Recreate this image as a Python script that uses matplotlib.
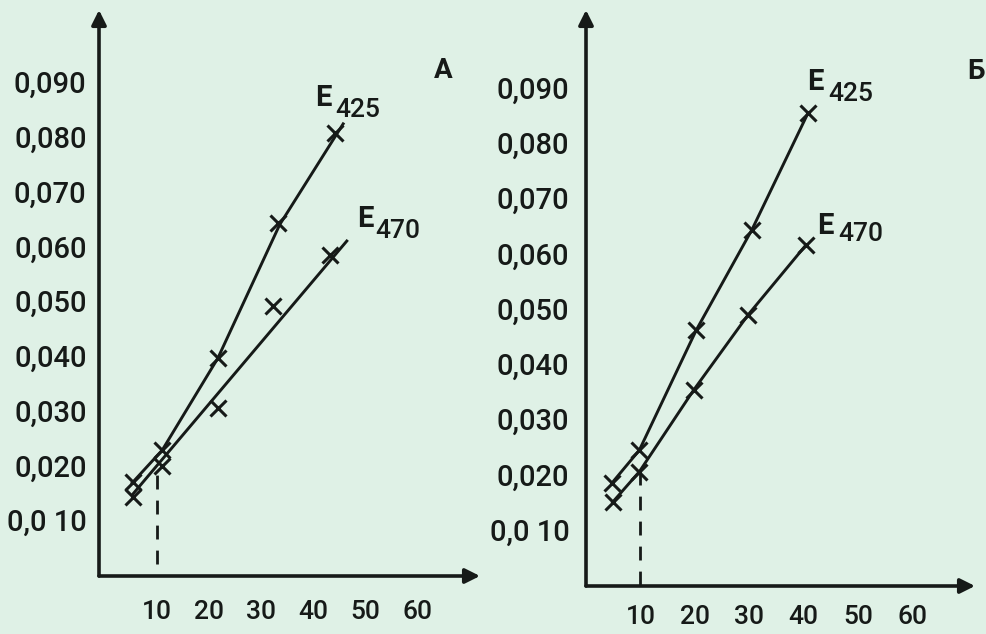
import matplotlib
matplotlib.use("Agg")
import matplotlib.pyplot as plt

plt.rcParams['font.family'] = ['Roboto', 'DejaVu Sans']

# ---- data ----
# Panel A: measured points
a_x425 = [5.4, 11.0, 21.7, 33.3, 44.2]
a_y425 = [0.0170, 0.0228, 0.0396, 0.0643, 0.0807]
a_x470 = [5.4, 11.0, 21.7, 32.3, 43.3]
a_y470 = [0.0142, 0.0199, 0.0305, 0.0491, 0.0584]
# Panel A: drawn lines (E425 hand-drawn through points, E470 straight fit)
a_line425_x = [5.2, 11.0, 21.7, 33.6, 45.8]
a_line425_y = [0.0168, 0.0228, 0.0396, 0.0640, 0.0824]
a_line470_x = [5.2, 46.5]
a_line470_y = [0.0146, 0.0610]
# Panel Б
b_x425 = [4.8, 9.8, 20.3, 30.5, 40.8]
b_y425 = [0.0185, 0.0244, 0.0462, 0.0643, 0.0854]
b_x470 = [4.9, 9.8, 19.8, 29.8, 40.4]
b_y470 = [0.0150, 0.0205, 0.0353, 0.0489, 0.0615]

x_ticks = [10, 20, 30, 40, 50, 60]
x_labels = ['10', '20', '30', '40', '50', '60']
y_ticks = [0.010, 0.020, 0.030, 0.040, 0.050, 0.060, 0.070, 0.080, 0.090]
y_labels = ['0,0 10', '0,020', '0,030', '0,040', '0,050', '0,060', '0,070', '0,080', '0,090']
series_names = ['425', '470']
panel_names = ['А', 'Б']
marker_x = 10  # dashed reference line position

BG = '#dff1e6'
INK = '#161a18'

W, H = 986, 634
fig = plt.figure(figsize=(W / 100, H / 100), dpi=100, facecolor=BG)


def px_axes(left, right, bottom, top):
    return fig.add_axes([left / W, (H - bottom) / H, (right - left) / W, (bottom - top) / H])


def setup(ax, xlim, ylim, ypad, xpad):
    ax.set_facecolor(BG)
    ax.set_xlim(*xlim)
    ax.set_ylim(*ylim)
    for s in ax.spines.values():
        s.set_visible(False)
    ax.set_xticks(x_ticks)
    ax.set_xticklabels(x_labels, fontsize=19, color=INK, fontweight='medium')
    ax.set_yticks(y_ticks)
    ax.set_yticklabels(y_labels, fontsize=21, color=INK, fontweight='medium')
    ax.tick_params(axis='both', length=0)
    ax.tick_params(axis='y', pad=ypad)
    ax.tick_params(axis='x', pad=xpad)
    # axes drawn as arrows
    ax.annotate('', xy=(0, 1), xytext=(0, 0), xycoords='axes fraction',
                arrowprops=dict(arrowstyle='-|>', lw=2.6, color=INK, mutation_scale=22,
                                shrinkA=0, shrinkB=0))
    ax.annotate('', xy=(1, 0), xytext=(0, 0), xycoords='axes fraction',
                arrowprops=dict(arrowstyle='-|>', lw=2.6, color=INK, mutation_scale=22,
                                shrinkA=0, shrinkB=0))


def pts(ax, xs, ys):
    ax.plot(xs, ys, ls='none', color=INK, marker='x', ms=11, mew=2.2, clip_on=False)


def line(ax, xs, ys):
    ax.plot(xs, ys, color=INK, lw=2.1, clip_on=False)


# ---- Panel A ----
axA = px_axes(99, 480, 576, 10)
setup(axA, ((99 - 105) / 5.2, (480 - 105) / 5.2), ((575 - 576) / 5475, (575 - 10) / 5475),
      ypad=9, xpad=17)
line(axA, a_line425_x, a_line425_y)
line(axA, a_line470_x, a_line470_y)
pts(axA, a_x425, a_y425)
pts(axA, a_x470, a_y470)
axA.plot([marker_x, marker_x], [0.002, a_y470[1]], color=INK, lw=2.0, ls=(0, (5, 4)))
axA.text(40.4, 0.0871, 'E', fontsize=21, color=INK, ha='left', va='center', fontweight='bold')
axA.text(44.2, 0.0850, series_names[0], fontsize=19, color=INK, ha='left', va='center',
         fontweight='medium')
axA.text(48.5, 0.0650, 'E', fontsize=21, color=INK, ha='left', va='center', fontweight='bold')
axA.text(51.9, 0.0629, series_names[1], fontsize=19, color=INK, ha='left', va='center',
         fontweight='medium')
axA.text(65.0, 0.0922, panel_names[0], fontsize=20, color=INK, ha='center', va='center',
         fontweight='bold')

# ---- Panel Б ----
axB = px_axes(586, 975, 586, 10)
setup(axB, ((586 - 586) / 5.44, (975 - 586) / 5.44), ((585 - 586) / 5525, (585 - 10) / 5525),
      ypad=12, xpad=14)
line(axB, b_x425, b_y425)
line(axB, b_x470, b_y470)
pts(axB, b_x425, b_y425)
pts(axB, b_x470, b_y470)
axB.plot([marker_x, marker_x], [0.0, b_y470[1]], color=INK, lw=2.0, ls=(0, (5, 4)))
axB.text(40.6, 0.0910, 'E', fontsize=21, color=INK, ha='left', va='center', fontweight='bold')
axB.text(44.5, 0.0888, series_names[0], fontsize=19, color=INK, ha='left', va='center',
         fontweight='medium')
axB.text(42.5, 0.0650, 'E', fontsize=21, color=INK, ha='left', va='center', fontweight='bold')
axB.text(46.3, 0.0636, series_names[1], fontsize=19, color=INK, ha='left', va='center',
         fontweight='medium')
axB.text(71.6, 0.0929, panel_names[1], fontsize=20, color=INK, ha='center', va='center',
         fontweight='bold', clip_on=False)

fig.savefig('out.png', dpi=100, facecolor=BG)
